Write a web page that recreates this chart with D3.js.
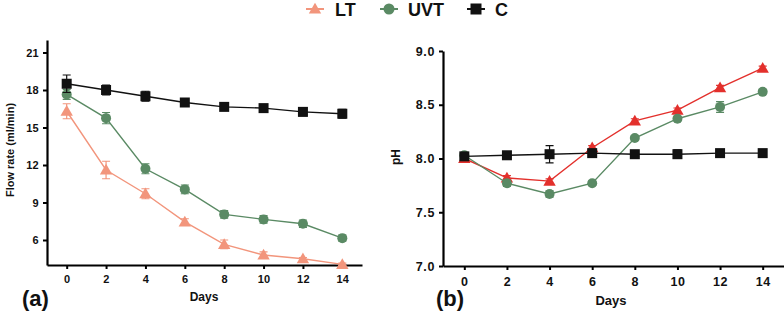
<!DOCTYPE html>
<html>
<head>
<meta charset="utf-8">
<script src="https://cdn.jsdelivr.net/npm/d3@7"></script>
<style>
  body { margin: 0; background: #fff; }
  svg { display: block; font-family: "Liberation Sans", Arial, sans-serif; font-weight: bold; }
</style>
</head>
<body>
<svg id="chart" width="784" height="313"></svg>
<script>
// days sampled
var days = [0, 2, 4, 6, 8, 10, 12, 14];

// flow rate (ml/min)
var flowLT = [16.3, 11.6, 9.7, 7.45, 5.65, 4.8, 4.5, 4.05];
var flowLTErr = [0.6, 0.7, 0.4, 0.25, 0.35, 0.25, 0.1, 0.1];
var flowUVT = [17.65, 15.75, 11.7, 10.05, 8.05, 7.65, 7.3, 6.15];
var flowUVTErr = [0.4, 0.45, 0.4, 0.35, 0.3, 0.3, 0.3, 0.25];
var flowC = [18.5, 18.0, 17.5, 17.0, 16.65, 16.55, 16.25, 16.1];
var flowCErr = [0.7, 0.4, 0.4, 0.2, 0.2, 0.2, 0.3, 0.35];

// pH
var phLT = [8.0, 7.82, 7.79, 8.1, 8.35, 8.45, 8.66, 8.84];
var phLTErr = [0.02, 0.02, 0.02, 0.02, 0.02, 0.02, 0.02, 0.02];
var phUVT = [8.03, 7.77, 7.67, 7.77, 8.19, 8.37, 8.48, 8.62];
var phUVTErr = [0.02, 0.03, 0.03, 0.02, 0.02, 0.02, 0.05, 0.02];
var phC = [8.02, 8.03, 8.04, 8.05, 8.04, 8.04, 8.05, 8.05];
var phCErr = [0.02, 0.02, 0.08, 0.02, 0.02, 0.04, 0.02, 0.02];

var dayTicks = [0, 2, 4, 6, 8, 10, 12, 14];
var flowTicks = [6, 9, 12, 15, 18, 21];
var phTicks = [7.0, 7.5, 8.0, 8.5, 9.0];

var colLTa = '#f2957c', colLTb = '#e3302c', colUVT = '#5a8a64', colC = '#111111';

var svg = d3.select('#chart');

function marker(g, shape, color, x, y, s) {
  if (shape == 'tri') {
    g.append('path').attr('fill', color)
      .attr('d', d3.symbol(d3.symbolTriangle, s * s * 0.55)())
      .attr('transform', `translate(${x},${y + 1})`);
  } else if (shape == 'circle') {
    g.append('circle').attr('cx', x).attr('cy', y).attr('r', s / 2).attr('fill', color);
  } else {
    g.append('rect').attr('x', x - s / 2).attr('y', y - s / 2)
      .attr('width', s).attr('height', s).attr('fill', color);
  }
}

function drawPanel(cfg) {
  var x = d3.scaleLinear().domain([-1, 15]).range([cfg.x0, cfg.x1]);
  var y = d3.scaleLinear().domain(cfg.yDomain).range([cfg.y0, cfg.y1]);
  var g = svg.append('g');

  var xAxis = g.append('g').attr('transform', `translate(0,${cfg.y0})`)
    .call(d3.axisBottom(x).tickValues(dayTicks).tickSize(4).tickPadding(cfg.xPad).tickSizeOuter(0));
  var yAxis = g.append('g').attr('transform', `translate(${cfg.x0},0)`)
    .call(d3.axisLeft(y).tickValues(cfg.yTicks).tickFormat(cfg.fmt).tickSize(4).tickPadding(4).tickSizeOuter(0));
  [xAxis, yAxis].forEach(a => {
    a.select('.domain').attr('stroke', '#000').attr('stroke-width', 2.2);
    a.selectAll('.tick line').attr('stroke', '#000').attr('stroke-width', 2);
    a.selectAll('.tick text').attr('fill', '#111').attr('font-size', cfg.tickFont)
      .attr('letter-spacing', cfg.tickSpacing)
      .attr('font-weight', 'bold').attr('font-family', '"Liberation Sans", Arial, sans-serif');
  });

  cfg.series.forEach(s => {
    var sg = g.append('g');
    var line = d3.line().x((d, i) => x(days[i])).y(d => y(d));
    sg.append('path').datum(s.values).attr('d', line)
      .attr('fill', 'none').attr('stroke', s.color).attr('stroke-width', 1.4);
    s.values.forEach((v, i) => {
      var e = s.err[i], cx = x(days[i]);
      sg.append('path').attr('stroke', s.color).attr('stroke-width', 1.2).attr('fill', 'none')
        .attr('d', `M${cx},${y(v - e)}V${y(v + e)}M${cx - 4},${y(v + e)}H${cx + 4}M${cx - 4},${y(v - e)}H${cx + 4}`);
      marker(sg, s.shape, s.color, cx, y(v), s.size);
    });
  });

  g.append('text').attr('x', cfg.daysX).attr('y', cfg.daysY)
    .attr('text-anchor', 'middle').attr('font-size', cfg.daysFont).attr('fill', '#111').text('Days');
  g.append('text').attr('transform', `translate(${cfg.yLabelX},${cfg.yLabelY}) rotate(-90)`)
    .attr('text-anchor', 'middle').attr('font-size', cfg.yLabelFont).attr('fill', '#111').text(cfg.yLabel);
  g.append('text').attr('x', cfg.tagX).attr('y', 306).attr('font-size', 22).attr('fill', '#111').text(cfg.tag);
}

drawPanel({
  x0: 47, x1: 362, y0: 265, y1: 40, yDomain: [4, 22], yTicks: flowTicks, fmt: d3.format('d'),
  tickFont: 11, tickSpacing: 0.3, xPad: 6,
  yLabel: 'Flow rate (ml/min)', yLabelX: 14, yLabelY: 150, yLabelFont: 11,
  daysX: 204, daysY: 301, daysFont: 12, tag: '(a)', tagX: 22,
  series: [
    {values: flowLT, err: flowLTErr, color: colLTa, shape: 'tri', size: 11},
    {values: flowUVT, err: flowUVTErr, color: colUVT, shape: 'circle', size: 10},
    {values: flowC, err: flowCErr, color: colC, shape: 'square', size: 10}
  ]
});

drawPanel({
  x0: 443, x1: 784, y0: 266, y1: 51, yDomain: [7, 9], yTicks: phTicks, fmt: d3.format('.1f'),
  tickFont: 12.5, tickSpacing: 0.6, xPad: 7,
  yLabel: 'pH', yLabelX: 400, yLabelY: 157, yLabelFont: 12,
  daysX: 611, daysY: 305, daysFont: 13, tag: '(b)', tagX: 436,
  series: [
    {values: phLT, err: phLTErr, color: colLTb, shape: 'tri', size: 11},
    {values: phUVT, err: phUVTErr, color: colUVT, shape: 'circle', size: 10},
    {values: phC, err: phCErr, color: colC, shape: 'square', size: 10}
  ]
});

// legend
var legend = [
  {label: 'LT', color: colLTa, shape: 'tri', x: 315, tx: 335},
  {label: 'UVT', color: colUVT, shape: 'circle', x: 389, tx: 408},
  {label: 'C', color: colC, shape: 'square', x: 476, tx: 495}
];
var lg = svg.append('g');
legend.forEach(l => {
  lg.append('line').attr('x1', l.x - 9).attr('x2', l.x + 9).attr('y1', 9).attr('y2', 9)
    .attr('stroke', l.color).attr('stroke-width', 2);
  marker(lg, l.shape, l.color, l.x, 9, 11);
  lg.append('text').attr('x', l.tx).attr('y', 16).attr('font-size', 18)
    .attr('fill', '#111').text(l.label);
});
</script>
</body>
</html>
